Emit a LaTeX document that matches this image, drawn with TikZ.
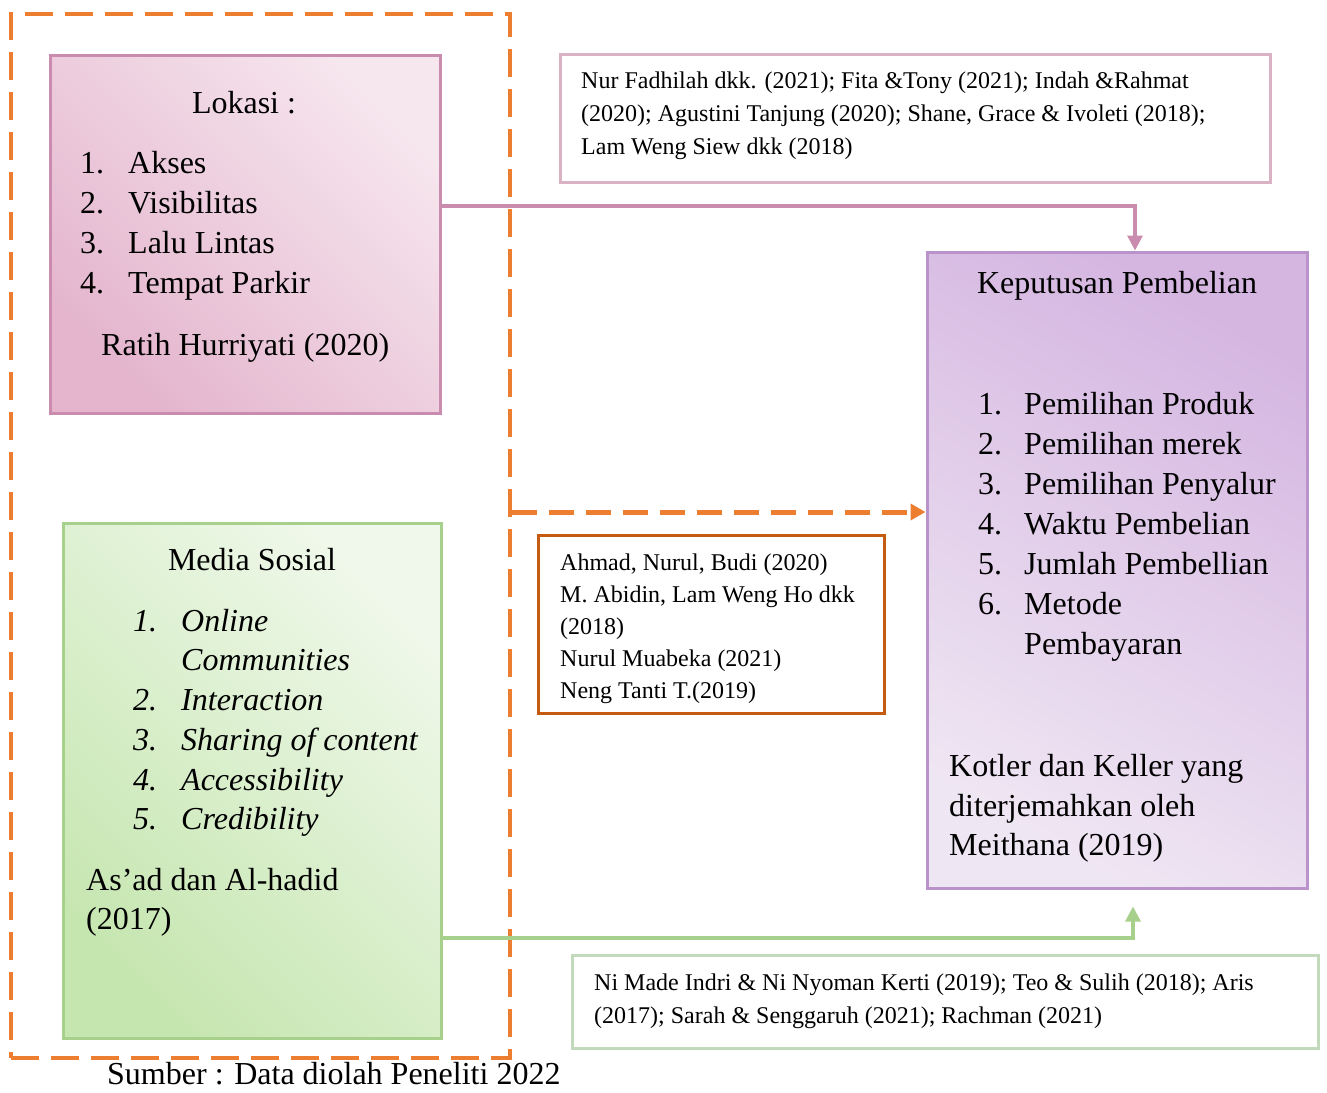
\documentclass[tikz,border=0pt]{standalone}
\usepackage{fontspec}
\setmainfont{Liberation Serif}
\usetikzlibrary{arrows.meta}
\definecolor{orgc}{HTML}{ED7D31}
\definecolor{orgd}{HTML}{C55A11}
\definecolor{pinkc}{HTML}{C98BAE}
\definecolor{pinkl}{HTML}{D9B3C4}
\definecolor{pinkdark}{HTML}{E4B5CD}
\definecolor{pinklight}{HTML}{F6E6EE}
\definecolor{purc}{HTML}{BB93CB}
\definecolor{purdark}{HTML}{D5B6E1}
\definecolor{purlight}{HTML}{EFE6F3}
\definecolor{grc}{HTML}{A8D08D}
\definecolor{grl}{HTML}{C3D9BC}
\definecolor{grdark}{HTML}{C6E6B0}
\definecolor{grlight}{HTML}{EFF8EA}
\begin{document}
\begin{tikzpicture}[x=1pt,y=-1pt,
  box/.style={rectangle, inner sep=0pt, line width=3pt},
  tbig/.style={font=\fontsize{32}{40}\selectfont, inner sep=0pt, anchor=base west},
  tsmall/.style={font=\fontsize{24}{30}\selectfont, inner sep=0pt, anchor=base west},
  tital/.style={tbig, font=\fontsize{32}{40}\selectfont\itshape},
  conn/.style={line width=3.2pt, -{Triangle[length=15pt,width=15pt]}}
]
\useasboundingbox (0,0) rectangle (1327,1092);
\fill[white] (0,0) rectangle (1327,1092);

% outer dashed frame
\node[box, draw=orgc, line width=3.5pt, dash pattern=on 28pt off 12pt,
  minimum width=499pt, minimum height=1044pt] (outer) at (260.5,536) {};

% boxes
\node[box, draw=pinkc, shading=axis, top color=pinklight, bottom color=pinkdark, shading angle=-45,
  minimum width=390pt, minimum height=358pt] (lok) at (245,234) {};
\node[box, draw=pinkl, fill=white, minimum width=710pt, minimum height=128pt] (ref1) at (915,118) {};
\node[box, draw=purc, shading=axis, top color=purdark, bottom color=purlight, shading angle=-30,
  minimum width=380pt, minimum height=636pt] (kep) at (1117,570) {};
\node[box, draw=orgd, fill=white, minimum width=346pt, minimum height=178pt] (mid) at (711,624) {};
\node[box, draw=grc, shading=axis, top color=grlight, bottom color=grdark, shading angle=-45,
  minimum width=378pt, minimum height=515pt] (med) at (252,780.5) {};
\node[box, draw=grl, fill=white, minimum width=746pt, minimum height=93pt] (ref2) at (945,1001.5) {};

% connectors
\coordinate (yp) at (0,206);
\coordinate (yo) at (0,512);
\coordinate (yg) at (0,938);
\draw[conn, pinkc] (lok.east |- yp) -| ([xshift=18pt]kep.north);
\draw[orgc, line width=5pt, dash pattern=on 25pt off 12pt, -{Triangle[length=15pt,width=16pt]}]
  (outer.east |- yo) -- (kep.west |- yo);
\draw[conn, grc] (med.east |- yg) -| ([xshift=16pt,yshift=-17pt]kep.south);

% Lokasi text
\node[tbig, anchor=base] (lt) at (244,113) {Lokasi :};
\node[tbig] (ln1) at (80,173) {1.};  \node[tbig] (li1) at (128,173) {Akses};
\node[tbig] (ln2) at (80,213) {2.};  \node[tbig] (li2) at (128,213) {Visibilitas};
\node[tbig] (ln3) at (80,253) {3.};  \node[tbig] (li3) at (128,253) {Lalu Lintas};
\node[tbig] (ln4) at (80,293) {4.};  \node[tbig] (li4) at (128,293) {Tempat Parkir};
\node[tbig] (lsrc) at (101,355) {Ratih Hurriyati (2020)};

% top references
\node[tsmall] (r1a) at (581,88) {Nur Fadhilah dkk. (2021); Fita \&Tony (2021); Indah \&Rahmat};
\node[tsmall] (r1b) at (581,121) {(2020); Agustini Tanjung (2020); Shane, Grace \& Ivoleti (2018);};
\node[tsmall] (r1c) at (581,154) {Lam Weng Siew dkk (2018)};

% Keputusan text
\node[tbig, anchor=base] (kt) at (1117,293) {Keputusan Pembelian};
\node[tbig] (kn1) at (978,414) {1.}; \node[tbig] (ki1) at (1024,414) {Pemilihan Produk};
\node[tbig] (kn2) at (978,454) {2.}; \node[tbig] (ki2) at (1024,454) {Pemilihan merek};
\node[tbig] (kn3) at (978,494) {3.}; \node[tbig] (ki3) at (1024,494) {Pemilihan Penyalur};
\node[tbig] (kn4) at (978,534) {4.}; \node[tbig] (ki4) at (1024,534) {Waktu Pembelian};
\node[tbig] (kn5) at (978,574) {5.}; \node[tbig] (ki5) at (1024,574) {Jumlah Pembellian};
\node[tbig] (kn6) at (978,614) {6.}; \node[tbig] (ki6) at (1024,614) {Metode};
\node[tbig] (ki6b) at (1024,654) {Pembayaran};
\node[tbig] (ks1) at (949,776) {Kotler dan Keller yang};
\node[tbig] (ks2) at (949,816) {diterjemahkan oleh};
\node[tbig] (ks3) at (949,855) {Meithana (2019)};

% middle references
\node[tsmall] (m1) at (560,570) {Ahmad, Nurul, Budi (2020)};
\node[tsmall] (m2) at (560,602) {M. Abidin, Lam Weng Ho dkk};
\node[tsmall] (m3) at (560,634) {(2018)};
\node[tsmall] (m4) at (560,666) {Nurul Muabeka (2021)};
\node[tsmall] (m5) at (560,698) {Neng Tanti T.(2019)};

% Media Sosial text
\node[tbig, anchor=base] (mt) at (252,570) {Media Sosial};
\node[tital] (mn1) at (133,631) {1.};
\node[tital] (mi1) at (181,631) {Online};
\node[tital] (mi1b) at (181,670) {Communities};
\node[tital] (mn2) at (133,710) {2.};
\node[tital] (mi2) at (181,710) {Interaction};
\node[tital] (mn3) at (133,750) {3.};
\node[tital] (mi3) at (181,750) {Sharing of content};
\node[tital] (mn4) at (133,790) {4.};
\node[tital] (mi4) at (181,790) {Accessibility};
\node[tital] (mn5) at (133,829) {5.};
\node[tital] (mi5) at (181,829) {Credibility};
\node[tbig] (ms1) at (86,890) {As’ad dan Al-hadid};
\node[tbig] (ms2) at (86,929) {(2017)};

% bottom references
\node[tsmall] (b1) at (594,990) {Ni Made Indri \& Ni Nyoman Kerti (2019); Teo \& Sulih (2018); Aris};
\node[tsmall] (b2) at (594,1023) {(2017); Sarah \& Senggaruh (2021); Rachman (2021)};

% source
\node[tbig] (src) at (107,1084) {Sumber : Data diolah Peneliti 2022};
\end{tikzpicture}
\end{document}
